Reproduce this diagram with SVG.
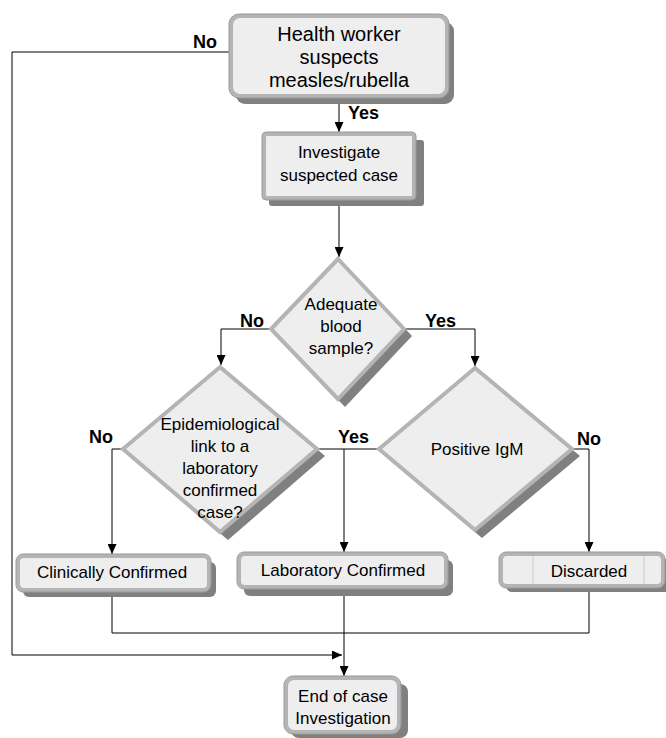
<svg xmlns="http://www.w3.org/2000/svg" width="666" height="738" viewBox="0 0 666 738">
<defs>
<marker id="arr" markerWidth="10" markerHeight="9" refX="10" refY="4.5" orient="auto" markerUnits="userSpaceOnUse">
<path d="M0,0 L10,4.5 L0,9 z" fill="#000"/>
</marker>
<style>
.shadow{fill:#808080;}
.box{fill:#eeeeee;stroke:#b4b4b4;stroke-width:4;}
.outline{fill:none;stroke:#999999;stroke-width:1;}
.t{font-family:"Liberation Sans",Arial,sans-serif;font-size:17px;fill:#000;text-anchor:middle;}
.big{font-size:20px;}
.lbl{font-family:"Liberation Sans",Arial,sans-serif;font-size:18px;font-weight:bold;fill:#000;}
.c{fill:none;stroke:#000;stroke-width:1;}
</style>
</defs>
<rect width="666" height="738" fill="#fff"/>

<g id="connectors">
<path class="c" d="M230,52 H12 V655 H342" marker-end="url(#arr)"/>
<path class="c" d="M339,99 V132" marker-end="url(#arr)"/>
<path class="c" d="M339,199 V257" marker-end="url(#arr)"/>
<path class="c" d="M270,329 H221 V365" marker-end="url(#arr)"/>
<path class="c" d="M405,329 H475 V366" marker-end="url(#arr)"/>
<path class="c" d="M122,449 H112 V554" marker-end="url(#arr)"/>
<path class="c" d="M318,449 H378"/>
<path class="c" d="M344,449 V552" marker-end="url(#arr)"/>
<path class="c" d="M573,449 H589 V552" marker-end="url(#arr)"/>
<path class="c" d="M112,592 V633 H589 V587"/>
<path class="c" d="M344,589 V676" marker-end="url(#arr)"/>
</g>

<g id="start">
<rect class="shadow" x="236" y="22" width="218" height="82" rx="9"/>
<rect class="box" x="231" y="16" width="216" height="80" rx="9"/>
<rect class="outline" x="229" y="14" width="220" height="84" rx="10"/>
<text class="t big" x="339" y="41">Health worker</text>
<text class="t big" x="339" y="64">suspects</text>
<text class="t big" x="339" y="87">measles/rubella</text>
</g>
<text class="lbl" x="193" y="48">No</text>
<text class="lbl" x="348" y="119">Yes</text>

<g id="investigate">
<rect class="shadow" x="269" y="140" width="155" height="66" rx="3"/>
<rect class="box" x="264" y="134" width="150" height="64" rx="3"/>
<rect class="outline" x="262" y="132" width="154" height="68" rx="4"/>
<text class="t" x="339" y="158">Investigate</text>
<text class="t" x="339" y="181">suspected case</text>
</g>

<g id="adequate">
<polygon class="shadow" points="345,265 412,336 345,407 277,336"/>
<polygon class="box" points="338,259 404,329 338,399 271,329"/>
<text class="t" x="341" y="310">Adequate</text>
<text class="t" x="341" y="332">blood</text>
<text class="t" x="341" y="354">sample?</text>
</g>
<text class="lbl" x="240" y="327">No</text>
<text class="lbl" x="425" y="327">Yes</text>

<g id="epi">
<polygon class="shadow" points="228,373 325,456 228,540 129,456"/>
<polygon class="box" points="220,367 317,449 220,532 123,449"/>
<text class="t" x="220" y="430">Epidemiological</text>
<text class="t" x="220" y="452">link to a</text>
<text class="t" x="220" y="474">laboratory</text>
<text class="t" x="220" y="496">confirmed</text>
<text class="t" x="220" y="518">case?</text>
</g>
<text class="lbl" x="89" y="443">No</text>
<text class="lbl" x="338" y="443">Yes</text>

<g id="igm">
<polygon class="shadow" points="482,374 580,456 482,538 385,456"/>
<polygon class="box" points="475,368 572,449 475,530 379,449"/>
<text class="t" x="477" y="455">Positive IgM</text>
</g>
<text class="lbl" x="577" y="445">No</text>

<g id="clinical">
<rect class="shadow" x="23" y="562" width="193" height="35" rx="6"/>
<rect class="box" x="18" y="556" width="191" height="34" rx="6"/>
<rect class="outline" x="16" y="554" width="195" height="38" rx="7"/>
<text class="t" x="112" y="578">Clinically Confirmed</text>
</g>

<g id="laboratory">
<rect class="shadow" x="244" y="560" width="209" height="36" rx="6"/>
<rect class="box" x="239" y="554" width="207" height="33" rx="6"/>
<rect class="outline" x="237" y="552" width="211" height="37" rx="7"/>
<text class="t" x="343" y="576">Laboratory Confirmed</text>
</g>

<g id="discarded">
<rect class="shadow" x="506" y="559" width="166" height="33" rx="6"/>
<rect class="box" x="501" y="554" width="162" height="32" rx="6"/>
<rect class="outline" x="499" y="552" width="166" height="36" rx="7"/>
<line x1="533" y1="556" x2="533" y2="584" stroke="#cccccc" stroke-width="1"/>
<line x1="644" y1="556" x2="644" y2="584" stroke="#cccccc" stroke-width="1"/>
<text class="t" x="589" y="577">Discarded</text>
</g>

<g id="end">
<rect class="shadow" x="291" y="684" width="117" height="54" rx="8"/>
<rect class="box" x="286" y="678" width="113" height="54" rx="8"/>
<rect class="outline" x="284" y="676" width="117" height="58" rx="9"/>
<text class="t" x="343" y="702">End of case</text>
<text class="t" x="343" y="724">Investigation</text>
</g>
</svg>
